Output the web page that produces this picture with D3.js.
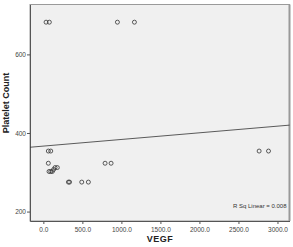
<!DOCTYPE html>
<html>
<head>
<meta charset="utf-8">
<script src="https://cdn.jsdelivr.net/npm/d3@7"></script>
<style>
  body { margin:0; background:#fff; overflow:hidden; }
  svg { display:block; }
  text { font-family:"Liberation Sans", Arial, sans-serif; }
</style>
</head>
<body>
<script>
// VEGF v/s Platelet Count scatter

var vegf = [35, 77, 949, 1167,
            64, 95,
            64, 791, 868,
            150, 179, 115, 73, 95, 131,
            321, 336, 492, 577,
            2765, 2885];
var platelets = [682, 682, 682, 682,
                 354, 354,
                 323, 323, 323,
                 312, 312, 302, 302, 302, 307,
                 275, 275, 275, 275,
                 354, 354];
var xTicks = [0, 500, 1000, 1500, 2000, 2500, 3000];
var yTicks = [200, 400, 600];
var fitLine = {intercept: 366.6, slope: 0.01693};
var rSqText = 'R Sq Linear = 0.008';

var outerWidth = 293,
    outerHeight = 247,
    margin = {left:30,right:3.5,top:4.5,bottom:26},
    innerWidth = outerWidth-margin.left-margin.right,
    innerHeight = outerHeight-margin.top-margin.bottom;

var svg = d3.select('body').append('svg')
  .attr('width',outerWidth)
  .attr('height',outerHeight);

var g = svg.append('g')
  .attr('transform','translate('+margin.left+','+margin.top+')');

var xScale = d3.scaleLinear().domain([-171,3154]).range([0,innerWidth]);
var yScale = d3.scaleLinear().domain([176,727]).range([innerHeight,0]);

// plot background + frame
g.append('rect')
  .attr('width',innerWidth)
  .attr('height',innerHeight)
  .attr('fill','#f0f0f0')
  .attr('stroke','#9a9a9a')
  .attr('stroke-width',1);
g.append('line')
  .attr('x1',innerWidth).attr('x2',innerWidth)
  .attr('y1',0).attr('y2',innerHeight)
  .attr('stroke','#999').attr('stroke-width',2);

// axes
var xAxis = g.append('g')
  .attr('transform','translate(0,'+innerHeight+')')
  .call(d3.axisBottom(xScale).tickValues(xTicks).tickFormat(d3.format('.1f')).tickSize(3).tickSizeOuter(0));
var yAxis = g.append('g')
  .call(d3.axisLeft(yScale).tickValues(yTicks).tickFormat(d3.format('d')).tickSize(3).tickSizeOuter(0));

[xAxis,yAxis].forEach(function(a){
  a.attr('font-size',null).attr('font-family',null);
  a.select('.domain').attr('stroke','#555');
  a.selectAll('.tick line').attr('stroke','#555');
  a.selectAll('.tick text').attr('font-size','6.5px').attr('fill','#444');
});
xAxis.selectAll('.tick text').attr('y',11).attr('dy',null);
yAxis.selectAll('.tick text').attr('x',-4);

// fit line
var x0 = xScale.domain()[0], x1 = xScale.domain()[1];
g.append('line')
  .attr('x1',xScale(x0)).attr('y1',yScale(fitLine.intercept+fitLine.slope*x0))
  .attr('x2',xScale(x1)).attr('y2',yScale(fitLine.intercept+fitLine.slope*x1))
  .attr('stroke','#333').attr('stroke-width',0.8);

// points
g.selectAll('circle').data(d3.range(vegf.length)).enter().append('circle')
  .attr('cx',function(i){return xScale(vegf[i]);})
  .attr('cy',function(i){return yScale(platelets[i]);})
  .attr('r',2)
  .attr('fill','none')
  .attr('stroke','#333')
  .attr('stroke-width',0.8);

// R sq label
g.append('text')
  .attr('x',innerWidth-3).attr('y',yScale(210))
  .attr('text-anchor','end')
  .attr('font-size','6px')
  .attr('fill','#333')
  .text(rSqText);

// axis titles
svg.append('text')
  .attr('x',160).attr('y',242)
  .attr('text-anchor','middle')
  .attr('font-size','9px')
  .attr('font-weight','bold')
  .attr('letter-spacing','0.5px')
  .attr('fill','#222')
  .text('VEGF');
svg.append('text')
  .attr('transform','translate(9,103) rotate(-90)')
  .attr('text-anchor','middle')
  .attr('font-size','9px')
  .attr('font-weight','bold')
  .attr('fill','#222')
  .text('Platelet Count');
</script>
</body>
</html>
